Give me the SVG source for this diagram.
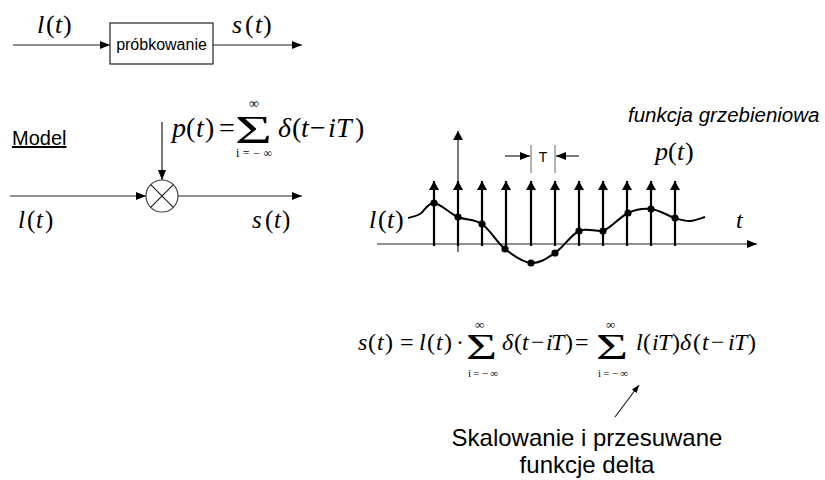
<svg xmlns="http://www.w3.org/2000/svg" width="825" height="480" viewBox="0 0 825 480">
<defs>
<style>
.ln{stroke:#222;stroke-width:1.2;fill:none}
.thk{stroke:#000;stroke-width:2.2;fill:none}
.m{font-family:"Liberation Serif","Times New Roman",serif;fill:#000}
.i{font-style:italic}
.s{font-family:"Liberation Sans",Arial,sans-serif;fill:#000}
</style>
<marker id="ah" viewBox="0 0 10 8" refX="10" refY="4" markerWidth="10" markerHeight="8" markerUnits="userSpaceOnUse" orient="auto"><path d="M0,0L10,4L0,8z" fill="#000"/></marker>
<marker id="ahi" viewBox="0 0 9 10" refX="9" refY="5" markerWidth="9" markerHeight="10" markerUnits="userSpaceOnUse" orient="auto"><path d="M0,0L9,5L0,10z" fill="#000"/></marker>
<marker id="ahs" viewBox="0 0 8 6" refX="8" refY="3" markerWidth="8" markerHeight="6" markerUnits="userSpaceOnUse" orient="auto"><path d="M0,0L8,3L0,6z" fill="#000"/></marker>
</defs>
<rect width="825" height="480" fill="#fff"/>

<g id="connectors">
<line class="ln" x1="13" y1="45" x2="110" y2="45" marker-end="url(#ah)"/>
<line class="ln" x1="213" y1="45" x2="302" y2="45" marker-end="url(#ah)"/>
<line class="ln" x1="10" y1="196" x2="146" y2="196" marker-end="url(#ah)"/>
<line class="ln" x1="178" y1="196" x2="302" y2="196" marker-end="url(#ah)"/>
<line class="ln" x1="162" y1="122" x2="162" y2="180" marker-end="url(#ah)"/>
<line class="ln" x1="615" y1="417" x2="639" y2="385" marker-end="url(#ahs)" stroke-width="1"/>
</g>

<g id="top-labels">
<text class="m" font-size="26" y="33"><tspan class="i" x="37">l</tspan><tspan x="46">(</tspan><tspan class="i" x="55">t</tspan><tspan x="63">)</tspan></text>
<text class="m" font-size="26" y="33"><tspan class="i" x="232">s</tspan><tspan x="245">(</tspan><tspan class="i" x="255">t</tspan><tspan x="263">)</tspan></text>
</g>

<g id="probkowanie">
<rect x="110" y="23" width="103" height="41" fill="#fff" stroke="#222" stroke-width="1.2"/>
<text class="s" font-size="16" x="161.5" y="50" text-anchor="middle">próbkowanie</text>
</g>

<g id="model">
<text class="s" font-size="20" x="12" y="145" text-decoration="underline">Model</text>
</g>

<g id="multiplier">
<circle cx="162" cy="196" r="16" fill="#fff" stroke="#444" stroke-width="1.2"/>
<line class="ln" x1="150.7" y1="184.7" x2="173.3" y2="207.3" stroke="#444"/>
<line class="ln" x1="173.3" y1="184.7" x2="150.7" y2="207.3" stroke="#444"/>
</g>

<g id="model-labels">
<text class="m" font-size="25" y="228"><tspan class="i" x="18">l</tspan><tspan x="27">(</tspan><tspan class="i" x="36">t</tspan><tspan x="45">)</tspan></text>
<text class="m" font-size="25" y="228"><tspan class="i" x="252">s</tspan><tspan x="265">(</tspan><tspan class="i" x="274">t</tspan><tspan x="282">)</tspan></text>
</g>

<g id="p-formula">
<text class="m" font-size="28" y="137"><tspan class="i" x="172">p</tspan><tspan x="186">(</tspan><tspan class="i" x="196">t</tspan><tspan x="205">)</tspan><tspan x="219">=</tspan></text>
<text class="m" font-size="40" x="235" y="143" textLength="37" lengthAdjust="spacingAndGlyphs">Σ</text>
<text class="m" font-size="14" x="249" y="108">∞</text>
<text class="m" font-size="12" x="236" y="157" textLength="36" lengthAdjust="spacing">i=−∞</text>
<text class="m" font-size="28" y="137"><tspan class="i" x="278">δ</tspan><tspan x="292">(</tspan><tspan class="i" x="301">t</tspan><tspan x="310">−</tspan><tspan class="i" x="328">i</tspan><tspan class="i" x="336">T</tspan><tspan x="355">)</tspan></text>
</g>

<g id="graph">
<line class="ln" x1="377" y1="244" x2="757" y2="244" marker-end="url(#ah)" stroke-width="1"/>
<line class="ln" x1="458" y1="252" x2="458" y2="131" marker-end="url(#ahi)" stroke-width="1"/>
<g class="thk" marker-end="url(#ahi)">
<line x1="434" y1="246" x2="434" y2="181"/>
<line x1="458" y1="246" x2="458" y2="181"/>
<line x1="482" y1="246" x2="482" y2="181"/>
<line x1="506" y1="246" x2="506" y2="181"/>
<line x1="531" y1="246" x2="531" y2="181"/>
<line x1="555" y1="246" x2="555" y2="181"/>
<line x1="579" y1="246" x2="579" y2="181"/>
<line x1="603" y1="246" x2="603" y2="181"/>
<line x1="627" y1="246" x2="627" y2="181"/>
<line x1="651" y1="246" x2="651" y2="181"/>
<line x1="675" y1="246" x2="675" y2="181"/>
</g>
<path d="M408,218C410,217.3 415.7,216.5 420,214C424.3,211.5 427.7,202.5 434,203C440.3,203.5 450,213.5 458,217C466,220.5 474.2,218.7 482,224C489.8,229.3 496.8,242.5 505,249C513.2,255.5 522.7,262.3 531,263C539.3,263.7 547,258.3 555,253C563,247.7 571,234.7 579,231C587,227.3 594.8,232 603,231C611.2,228 620,216.7 628,213C636,209.3 643.2,208.2 651,209C658.8,209.8 668.5,216 675,218C681.5,220 685,221.2 690,221C695,220.8 702.5,217.7 705,217" fill="none" stroke="#000" stroke-width="2"/>
<g fill="#000">
<circle cx="434" cy="203" r="3.6"/><circle cx="458" cy="217" r="3.6"/><circle cx="482" cy="224" r="3.6"/>
<circle cx="505" cy="249" r="3.6"/><circle cx="531" cy="263" r="3.6"/><circle cx="555" cy="253" r="3.6"/>
<circle cx="579" cy="231" r="3.6"/><circle cx="603" cy="231" r="3.6"/><circle cx="628" cy="213" r="3.6"/>
<circle cx="651" cy="209" r="3.6"/><circle cx="675" cy="218" r="3.6"/>
</g>
<line x1="531" y1="145" x2="531" y2="173" stroke="#666" stroke-width="1"/>
<line x1="555" y1="145" x2="555" y2="173" stroke="#666" stroke-width="1"/>
<line class="ln" x1="505" y1="156" x2="530" y2="156" marker-end="url(#ah)" stroke-width="1"/>
<line class="ln" x1="579" y1="156" x2="556" y2="156" marker-end="url(#ah)" stroke-width="1"/>
<text class="s" font-size="14" x="543" y="162" text-anchor="middle">T</text>
<text class="m" font-size="26" y="228"><tspan class="i" x="369">l</tspan><tspan x="378">(</tspan><tspan class="i" x="387">t</tspan><tspan x="395">)</tspan></text>
<text class="m i" font-size="24" x="736" y="228">t</text>
<text class="m" font-size="26" y="160"><tspan class="i" x="655">p</tspan><tspan x="668">(</tspan><tspan class="i" x="677">t</tspan><tspan x="685">)</tspan></text>
<text class="s" font-size="20.5" x="628" y="122" font-style="italic">funkcja grzebieniowa</text>
</g>

<g id="s-formula">
<text class="m" font-size="24" y="350"><tspan class="i" x="358">s</tspan><tspan x="368">(</tspan><tspan class="i" x="377">t</tspan><tspan x="385">)</tspan><tspan x="400">=</tspan><tspan class="i" x="419">l</tspan><tspan x="427">(</tspan><tspan class="i" x="436">t</tspan><tspan x="444">)</tspan><tspan x="456">·</tspan></text>
<text class="m" font-size="36" x="466" y="359" textLength="31" lengthAdjust="spacingAndGlyphs">Σ</text>
<text class="m" font-size="13" x="475" y="329">∞</text>
<text class="m" font-size="11" x="468" y="377" textLength="30" lengthAdjust="spacing">i=−∞</text>
<text class="m" font-size="24" y="350"><tspan class="i" x="502">δ</tspan><tspan x="514">(</tspan><tspan class="i" x="522">t</tspan><tspan x="531">−</tspan><tspan class="i" x="546">i</tspan><tspan class="i" x="551">T</tspan><tspan x="565">)</tspan><tspan x="575">=</tspan></text>
<text class="m" font-size="36" x="596" y="359" textLength="32" lengthAdjust="spacingAndGlyphs">Σ</text>
<text class="m" font-size="13" x="606" y="329">∞</text>
<text class="m" font-size="11" x="598" y="377" textLength="30" lengthAdjust="spacing">i=−∞</text>
<text class="m" font-size="24" y="350"><tspan class="i" x="636">l</tspan><tspan x="643">(</tspan><tspan class="i" x="652">i</tspan><tspan class="i" x="658">T</tspan><tspan x="672">)</tspan><tspan class="i" x="680">δ</tspan><tspan x="693">(</tspan><tspan class="i" x="702">t</tspan><tspan x="711">−</tspan><tspan class="i" x="728">i</tspan><tspan class="i" x="734">T</tspan><tspan x="748">)</tspan></text>
</g>

<g id="note">
<text class="s" font-size="24" x="587" y="446" text-anchor="middle">Skalowanie i przesuwane</text>
<text class="s" font-size="24" x="587" y="473" text-anchor="middle">funkcje delta</text>
</g>
</svg>
